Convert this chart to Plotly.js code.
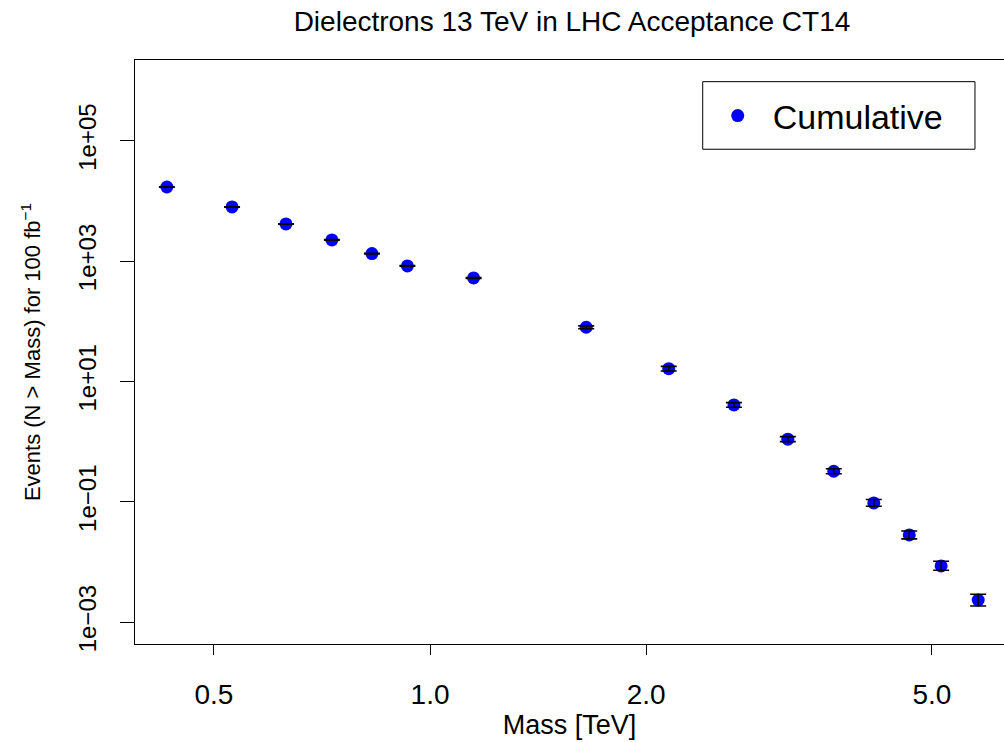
<!DOCTYPE html>
<html>
<head>
<meta charset="utf-8">
<script src="https://cdn.plot.ly/plotly-3.0.1.min.js"></script>
<style>
  html, body { margin: 0; padding: 0; background: #ffffff; overflow: hidden; }
  #chart { width: 1004px; height: 742px; }
</style>
</head>
<body>
<div id="chart"></div>
<script>
// ---- data ----
var massTeV = [0.43, 0.53, 0.63, 0.73, 0.83, 0.93, 1.15, 1.65, 2.15, 2.65, 3.15, 3.65, 4.15, 4.65, 5.15, 5.80];
var eventsAbove = [17000, 7930, 4130, 2240, 1330, 830, 524, 79.4, 16.3, 4.07, 1.10, 0.322, 0.0959, 0.0282, 0.0086, 0.00234];
var errUp = [130, 70, 40, 25, 15, 10, 8, 4.5, 1.5, 0.37, 0.11, 0.032, 0.0131, 0.0046, 0.0017, 0.00057];
var errDown = [130, 70, 40, 25, 15, 10, 8, 4.5, 1.4, 0.34, 0.10, 0.029, 0.0115, 0.0040, 0.0013, 0.00048];
var xTickVals = [0.5, 1, 2, 5];
var xTickText = ["0.5", "1.0", "2.0", "5.0"];
var yTickVals = [1e-3, 1e-1, 1e1, 1e3, 1e5];
var yTickText = ["1e\u221203", "1e\u221201", "1e+01", "1e+03", "1e+05"];
var seriesName = "Cumulative";

var FONT = "Liberation Sans, Arial, Helvetica, sans-serif";

var points = {
  x: massTeV,
  y: eventsAbove,
  type: "scatter",
  mode: "markers",
  name: seriesName,
  marker: { color: "#0000ff", size: 13, symbol: "circle" },
  cliponaxis: false,
  hoverinfo: "x+y"
};

var bars = {
  x: massTeV,
  y: eventsAbove,
  type: "scatter",
  mode: "markers",
  name: seriesName + " uncertainty",
  showlegend: false,
  marker: { color: "rgba(0,0,0,0)", size: 1 },
  error_y: {
    type: "data",
    symmetric: false,
    array: errUp,
    arrayminus: errDown,
    color: "#000000",
    thickness: 1.6,
    width: 8
  },
  cliponaxis: false,
  hoverinfo: "skip"
};

var layout = {
  width: 1004,
  height: 742,
  margin: { l: 135, r: 0, t: 60, b: 98 },
  paper_bgcolor: "#ffffff",
  plot_bgcolor: "#ffffff",
  font: { family: FONT, color: "#000000" },
  title: {
    text: "Dielectrons 13 TeV in LHC Acceptance CT14",
    font: { family: FONT, size: 28, color: "#000000" },
    xref: "container", x: 0.5697, xanchor: "center",
    yref: "container", y: 0.971, yanchor: "middle"
  },
  xaxis: {
    type: "log",
    range: [-0.4109, 0.7994],
    tickvals: xTickVals,
    ticktext: xTickText,
    ticks: "outside",
    ticklen: 10,
    tickwidth: 1,
    tickcolor: "#000000",
    tickfont: { family: FONT, size: 28 },
    ticklabelstandoff: 15,
    showline: true,
    linecolor: "#000000",
    linewidth: 1,
    mirror: true,
    showgrid: false,
    zeroline: false,
    automargin: false,
    title: { text: "Mass [TeV]", font: { family: FONT, size: 27 }, standoff: 5 }
  },
  yaxis: {
    type: "log",
    range: [-3.362, 6.34],
    tickvals: yTickVals,
    ticktext: yTickText,
    tickangle: -90,
    ticks: "outside",
    ticklen: 14,
    tickwidth: 1,
    tickcolor: "#000000",
    tickfont: { family: FONT, size: 24 },
    showline: true,
    linecolor: "#000000",
    linewidth: 1,
    mirror: false,
    showgrid: false,
    zeroline: false,
    automargin: false,
    ticklabelstandoff: 14,
    title: { text: "Events (N > Mass) for 100 fb<sup>\u22121</sup>", font: { family: FONT, size: 22 }, standoff: 27 }
  },
  showlegend: true,
  legend: {
    x: 0.6533, xanchor: "left",
    y: 0.9042, yanchor: "middle",
    bgcolor: "rgba(0,0,0,0)",
    borderwidth: 0,
    itemwidth: 60,
    font: { family: FONT, size: 34, color: "#000000" }
  },
  shapes: [{
    type: "rect", xref: "paper", yref: "paper",
    x0: 0.6533, x1: 0.9666, y0: 0.8472, y1: 0.9629,
    line: { color: "#000000", width: 1 }, fillcolor: "rgba(0,0,0,0)"
  }]
};

Plotly.newPlot("chart", [points, bars], layout, { displayModeBar: false, staticPlot: true });
</script>
</body>
</html>
